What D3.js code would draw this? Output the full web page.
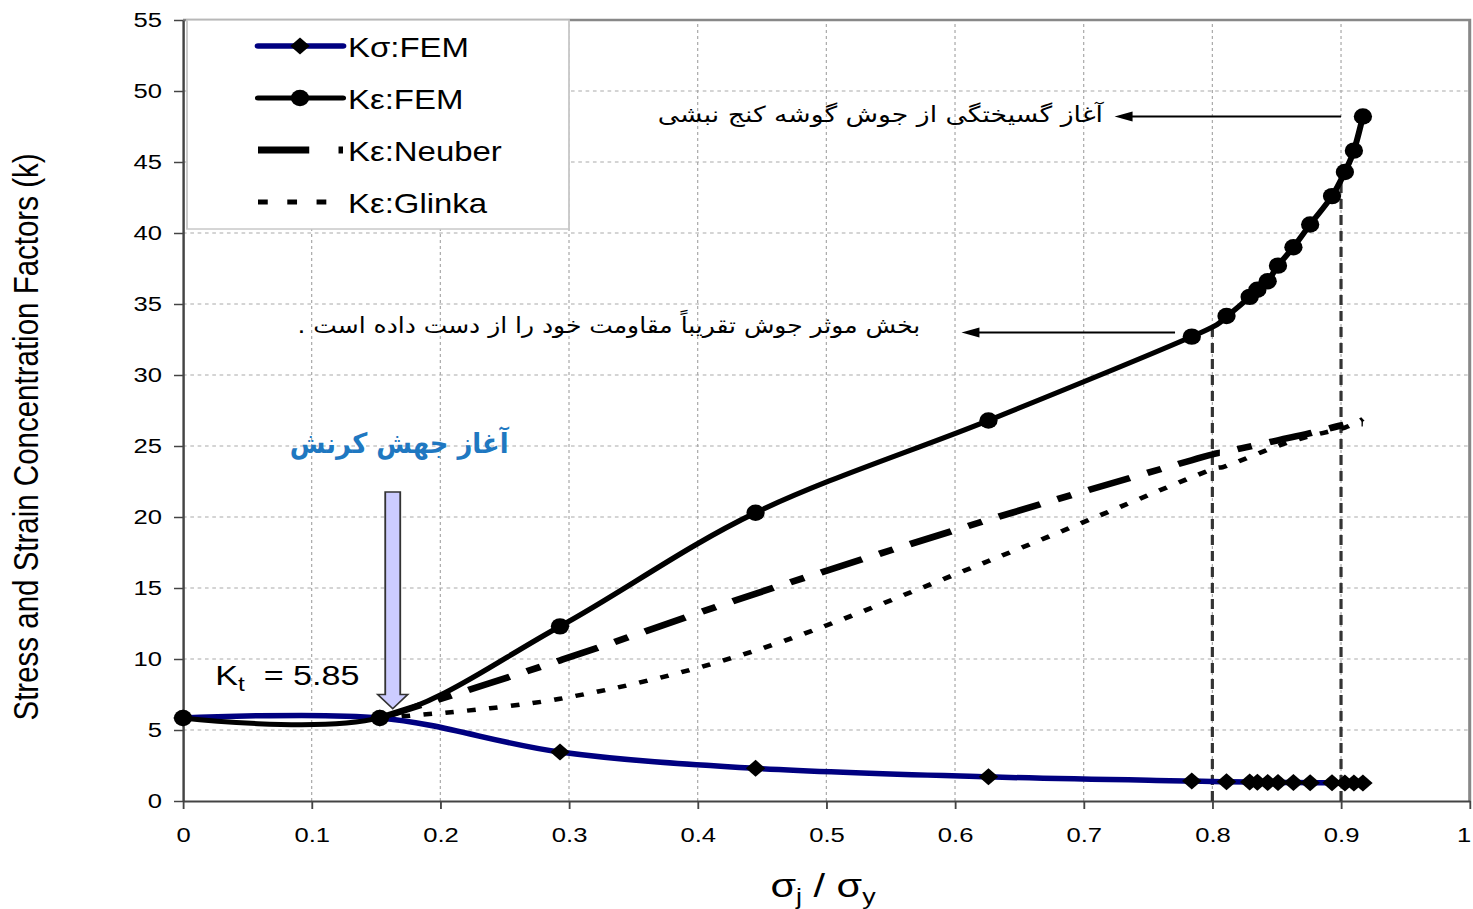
<!DOCTYPE html>
<html>
<head>
<meta charset="utf-8">
<script src="https://cdn.jsdelivr.net/npm/d3@7"></script>
<style>
  body { margin: 0; background: #fff; }
  svg { display: block; }
</style>
</head>
<body>
<svg id="chart" width="1473" height="909"></svg>
<script>
// the source picture is stretched sideways, so the whole drawing is too
const SX = 1.22;
const svg = d3.select("#chart");
const root = svg.append("g").attr("transform", "scale(" + SX + ",1)");

// data
const xTickValues = [0, 0.1, 0.2, 0.3, 0.4, 0.5, 0.6, 0.7, 0.8, 0.9, 1];
const xTickLabels = ["0", "0.1", "0.2", "0.3", "0.4", "0.5", "0.6", "0.7", "0.8", "0.9", "1"];
const yTickValues = [0, 5, 10, 15, 20, 25, 30, 35, 40, 45, 50, 55];

const femX = [0, 0.153, 0.293, 0.445, 0.626, 0.784, 0.811, 0.829, 0.835, 0.843, 0.851, 0.863, 0.876, 0.893, 0.903, 0.910, 0.917];
const kSigmaFEM = [5.85, 5.85, 3.45, 2.3, 1.7, 1.4, 1.35, 1.33, 1.32, 1.31, 1.3, 1.3, 1.29, 1.28, 1.27, 1.27, 1.26];
const kEpsFEM = [5.85, 5.85, 12.3, 20.3, 26.8, 32.7, 34.15, 35.5, 36.0, 36.6, 37.7, 39.0, 40.6, 42.6, 44.3, 45.8, 48.2];

const approxX = [0.153, 0.293, 0.445, 0.626, 0.784, 0.811, 0.851, 0.876, 0.903, 0.917];
const kEpsNeuber = [5.85, 9.9, 14.6, 19.8, 24.0, 24.6, 25.4, 25.9, 26.5, 26.6];
const kEpsGlinka = [5.85, 7.2, 10.6, 16.9, 22.8, 23.6, 25.0, 25.7, 26.3, 26.9];

const legendNames = ["Kσ:FEM", "Kε:FEM", "Kε:Neuber", "Kε:Glinka"];

// vertical drop lines (x, top value)
const dropX = [0.8, 0.9];
const dropTop = [33.7, 44.2];

// annotation texts
const noteTop = "آغاز گسیختگی از جوش گوشه  کنج نبشی";
const noteMid = "بخش موثر جوش تقریباً مقاومت خود را از دست داده است .";
const noteYield = "آغاز جهش کرنش";

// scales
const x = d3.scaleLinear().domain([0, 1]).range([183 / SX, 1469.7 / SX]);
const y = d3.scaleLinear().domain([0, 55]).range([801, 20]);

const tickFont = "'Liberation Sans', Arial, sans-serif";

// gridlines
root.append("g").selectAll("line")
    .data(xTickValues.slice(1, -1))
    .enter().append("line")
    .attr("x1", function (d) { return x(d); })
    .attr("x2", function (d) { return x(d); })
    .attr("y1", y(0)).attr("y2", y(55))
    .attr("stroke", "#aaa").attr("stroke-width", 1)
    .attr("stroke-dasharray", "3,3");

root.append("g").selectAll("line")
    .data(yTickValues.slice(1, -1))
    .enter().append("line")
    .attr("x1", x(0)).attr("x2", x(1))
    .attr("y1", function (d) { return y(d); })
    .attr("y2", function (d) { return y(d); })
    .attr("stroke", "#aaa").attr("stroke-width", 1)
    .attr("stroke-dasharray", "3,3");

// frame on top and right
root.append("path")
    .attr("d", "M" + x(0) + "," + y(55) + "H" + x(1) + "V" + y(0))
    .attr("fill", "none").attr("stroke", "#888").attr("stroke-width", 2.5);

// axes
const xAxis = root.append("g")
    .attr("transform", "translate(0," + y(0) + ")")
    .call(d3.axisBottom(x)
        .tickValues(xTickValues)
        .tickFormat(function (d, i) { return xTickLabels[i]; })
        .tickSize(8).tickSizeOuter(0).tickPadding(18));

const yAxis = root.append("g")
    .attr("transform", "translate(" + x(0) + ",0)")
    .call(d3.axisLeft(y)
        .tickValues(yTickValues)
        .tickSize(9 / SX).tickSizeOuter(0).tickPadding(12 / SX));

[xAxis, yAxis].forEach(function (a) {
    a.select(".domain").attr("stroke", "#444").attr("stroke-width", 2);
    a.selectAll(".tick line").attr("stroke", "#444").attr("stroke-width", 1.5);
    a.selectAll(".tick text")
        .attr("font-family", tickFont)
        .attr("font-size", 21)
        .attr("fill", "#000");
});
// last label sits on the page edge
xAxis.selectAll(".tick text").filter(function (d) { return d === 1; })
    .attr("text-anchor", "end").attr("dx", 1 / SX);

// drop lines
root.append("g").selectAll("line")
    .data(dropX)
    .enter().append("line")
    .attr("x1", function (d) { return x(d); })
    .attr("x2", function (d) { return x(d); })
    .attr("y1", y(0))
    .attr("y2", function (d, i) { return y(dropTop[i]); })
    .attr("stroke", "#333").attr("stroke-width", 2.6)
    .attr("stroke-dasharray", "10,6");

// series
const smooth = d3.curveCardinal.tension(0);
function pts(xs, ys) { return xs.map(function (v, i) { return [v, ys[i]]; }); }
const line = d3.line()
    .x(function (d) { return x(d[0]); })
    .y(function (d) { return y(d[1]); })
    .curve(smooth);

root.append("path").datum(pts(approxX, kEpsGlinka))
    .attr("d", line).attr("fill", "none")
    .attr("stroke", "#000").attr("stroke-width", 4.5)
    .attr("stroke-dasharray", "7,11");

root.append("path").datum(pts(approxX, kEpsNeuber))
    .attr("d", line).attr("fill", "none")
    .attr("stroke", "#000").attr("stroke-width", 6.5)
    .attr("stroke-dasharray", "36,15,12,15");

root.append("path").datum(pts(femX, kSigmaFEM))
    .attr("d", line).attr("fill", "none")
    .attr("stroke", "#000080").attr("stroke-width", 5.5);

root.append("path").datum(pts(femX, kEpsFEM))
    .attr("d", line).attr("fill", "none")
    .attr("stroke", "#000").attr("stroke-width", 5);

const diamond = "M0,-8.5L8,0L0,8.5L-8,0Z";

root.append("g").selectAll("path")
    .data(pts(femX, kSigmaFEM))
    .enter().append("path")
    .attr("d", diamond)
    .attr("transform", function (d) { return "translate(" + x(d[0]) + "," + y(d[1]) + ")"; })
    .attr("fill", "#000");

root.append("g").selectAll("ellipse")
    .data(pts(femX, kEpsFEM))
    .enter().append("ellipse")
    .attr("cx", function (d) { return x(d[0]); })
    .attr("cy", function (d) { return y(d[1]); })
    .attr("rx", 7.5).attr("ry", 8.2)
    .attr("fill", "#000");

// legend
const lg = root.append("g");
lg.append("rect")
    .attr("x", 187 / SX).attr("y", 20)
    .attr("width", (569 - 187) / SX).attr("height", 209)
    .attr("fill", "#fff").attr("stroke", "#c8c8c8").attr("stroke-width", 1.5);

const legY = [46, 98, 150, 202];
const lx0 = 258 / SX, lx1 = 343 / SX, lxm = 300 / SX;

lg.append("line").attr("x1", lx0).attr("x2", lx1).attr("y1", legY[0]).attr("y2", legY[0])
    .attr("stroke", "#000080").attr("stroke-width", 5.5).attr("stroke-linecap", "round");
lg.append("path").attr("d", diamond).attr("fill", "#000")
    .attr("transform", "translate(" + lxm + "," + legY[0] + ")");

lg.append("line").attr("x1", lx0).attr("x2", lx1).attr("y1", legY[1]).attr("y2", legY[1])
    .attr("stroke", "#000").attr("stroke-width", 5).attr("stroke-linecap", "round");
lg.append("ellipse").attr("cx", lxm).attr("cy", legY[1]).attr("rx", 7.5).attr("ry", 8.2).attr("fill", "#000");

lg.append("line").attr("x1", lx0).attr("x2", lx1).attr("y1", legY[2]).attr("y2", legY[2])
    .attr("stroke", "#000").attr("stroke-width", 7)
    .attr("stroke-dasharray", "42,24,5,60");

lg.append("line").attr("x1", lx0).attr("x2", lx1).attr("y1", legY[3]).attr("y2", legY[3])
    .attr("stroke", "#000").attr("stroke-width", 5)
    .attr("stroke-dasharray", "8,16");

lg.selectAll("text")
    .data(legendNames)
    .enter().append("text")
    .attr("x", 348 / SX)
    .attr("y", function (d, i) { return legY[i] + 11; })
    .attr("font-family", tickFont)
    .attr("font-size", 27)
    .text(function (d) { return d; });

// arrows for the notes
function arrow(xFrom, xTip, v) {
    const yy = y(v);
    root.append("line")
        .attr("x1", x(xFrom)).attr("x2", x(xTip) + 12 / SX)
        .attr("y1", yy).attr("y2", yy)
        .attr("stroke", "#000").attr("stroke-width", 2);
    root.append("path")
        .attr("d", "M" + x(xTip) + "," + yy + "L" + (x(xTip) + 18 / SX) + "," + (yy - 5) +
            "L" + (x(xTip) + 18 / SX) + "," + (yy + 5) + "Z")
        .attr("fill", "#000");
}
arrow(0.9, 0.724, 48.2);
arrow(0.771, 0.605, 33.0);

// notes: centre x, baseline value, width in data units
function note(txt, cx, v, span, size, color, weight) {
    root.append("text")
        .attr("x", x(cx)).attr("y", y(v))
        .attr("direction", "rtl")
        .attr("text-anchor", "middle")
        .attr("font-family", "'DejaVu Sans', sans-serif")
        .attr("font-size", size)
        .attr("font-weight", weight)
        .attr("fill", color)
        .attr("textLength", x(span) - x(0))
        .attr("lengthAdjust", "spacingAndGlyphs")
        .text(txt);
}
note(noteTop, 0.542, 47.8, 0.346, 22, "#000", "normal");
note(noteMid, 0.331, 32.95, 0.484, 22, "#000", "normal");
note(noteYield, 0.168, 24.5, 0.170, 28, "#1f78c1", "bold");

// block arrow marking the onset of yield
const bx = x(0.163), bTop = y(21.76), bNeck = y(7.5), bTip = y(6.5);
const hw = 7.5 / SX, hh = 15 / SX;
root.append("path")
    .attr("d", "M" + (bx - hw) + "," + bTop + "H" + (bx + hw) + "V" + bNeck + "H" + (bx + hh) +
        "L" + bx + "," + bTip + "L" + (bx - hh) + "," + bNeck + "H" + (bx - hw) + "Z")
    .attr("fill", "#ccccff").attr("stroke", "#333").attr("stroke-width", 1.5);

// Kt label
const kt = root.append("text")
    .attr("x", x(0.025)).attr("y", y(8.17))
    .attr("font-family", tickFont).attr("font-size", 28);
kt.append("tspan").text("K");
kt.append("tspan").attr("font-size", 20).attr("dy", 6).text("t");
kt.append("tspan").attr("dy", -6).text("\u00A0\u00A0= 5.85");

// axis titles
const xt = root.append("text")
    .attr("x", 823 / SX).attr("y", 897)
    .attr("text-anchor", "middle")
    .attr("font-family", tickFont).attr("font-size", 34);
xt.append("tspan").text("σ");
xt.append("tspan").attr("font-size", 22).attr("dy", 7).text("j");
xt.append("tspan").attr("dy", -7).text(" / σ");
xt.append("tspan").attr("font-size", 22).attr("dy", 7).text("y");

root.append("text")
    .attr("transform", "translate(" + (38 / SX) + ",437) rotate(-90)")
    .attr("text-anchor", "middle")
    .attr("font-family", tickFont).attr("font-size", 29.5)
    .text("Stress and Strain Concentration Factors (k)");
</script>
</body>
</html>
